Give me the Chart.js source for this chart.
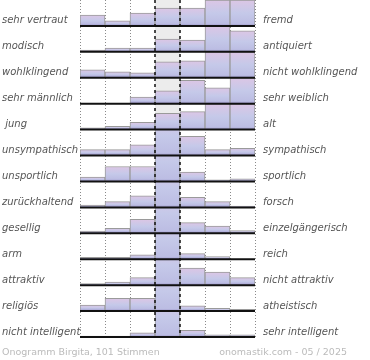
<!DOCTYPE html>
<html><head><meta charset="utf-8">
<script src="https://cdn.jsdelivr.net/npm/chart.js@4/dist/chart.umd.min.js"></script>
<style>html,body{margin:0;padding:0;background:#fff;} #wrap{width:370px;height:360px;position:relative;}</style>
</head><body><div id="wrap"><canvas id="c" width="370" height="360"></canvas></div>
<script>
const columns = ['1', '2', '3', '4', '5', '6', '7'];
const leftLabels = ['sehr vertraut', 'modisch', 'wohlklingend', 'sehr männlich', ' jung', 'unsympathisch', 'unsportlich', 'zurückhaltend', 'gesellig', 'arm', 'attraktiv', 'religiös', 'nicht intelligent'];
const rightLabels = ['fremd', 'antiquiert', 'nicht wohlklingend', 'sehr weiblich', 'alt', 'sympathisch', 'sportlich', 'forsch', 'einzelgängerisch', 'reich', 'nicht attraktiv', 'atheistisch', 'sehr intelligent'];
const row01 = [11, 5, 13, 18, 18, 26, 26];
const row02 = [1.7, 3.7, 3.7, 12.7, 11.7, 26, 21];
const row03 = [8, 6, 5, 16, 17, 26, 26];
const row04 = [0, 0, 6.7, 13, 23.5, 16, 26];
const row05 = [1.7, 3.3, 7.3, 16.3, 18, 26, 26];
const row06 = [6, 6, 10.7, 40, 19.3, 6, 7.3];
const row07 = [4.3, 15, 15, 40, 9.3, 1.7, 2.7];
const row08 = [2.3, 5.7, 11.7, 40, 10, 5.7, 1.3];
const row09 = [2.3, 5, 14, 40, 10.7, 7.3, 2.7];
const row10 = [2, 2, 4.3, 40, 5.7, 2.7, 0];
const row11 = [1.5, 3, 7.5, 40, 17, 13, 7.5];
const row12 = [6, 12.7, 12.7, 40, 5.3, 2.7, 1.7];
const row13 = [1, 1, 4.3, 40, 6.7, 2.3, 2.3];
const rows = [row01, row02, row03, row04, row05, row06, row07, row08, row09, row10, row11, row12, row13];
const footerLeft = 'Onogramm Birgita, 101 Stimmen';
const footerRight = 'onomastik.com - 05 / 2025';
const rowMax = 26;

function barFill(ctx) {
  const chart = ctx.chart;
  if (!chart.chartArea) return '#c4c6e8';
  const ys = chart.scales['y' + ctx.datasetIndex];
  const v = ctx.raw;
  const y0 = ys.getPixelForValue(0), y1 = ys.getPixelForValue(v);
  const h = y0 - y1;
  if (!isFinite(h) || h < 1) return '#b0aed8';
  const g = chart.ctx.createLinearGradient(0, y0, 0, y1);
  g.addColorStop(0, '#9d97c9');
  g.addColorStop(Math.min(0.45, 2.5 / h), '#bcbde3');
  g.addColorStop(0.5, '#c5c9e9');
  g.addColorStop(1, '#dcc6e5');
  return g;
}

const scales = {
  x: { type: 'category', labels: columns, display: false, offset: true }
};
rows.forEach((r, i) => {
  scales['y' + i] = { type: 'linear', min: 0, max: rowMax, display: false, position: 'right', stack: 'rows', stackWeight: 1 };
});

const datasets = rows.map((r, i) => ({
  data: r,
  yAxisID: 'y' + i,
  grouped: false,
  categoryPercentage: 1,
  barPercentage: 1,
  clip: 0,
  backgroundColor: barFill,
  borderColor: '#9a9a9a',
  borderWidth: { top: 1, left: 1, right: 1, bottom: 0 },
  borderSkipped: false
}));

function colEdges(chart) {
  const xs = chart.scales.x;
  const edges = [];
  const n = columns.length;
  for (let i = 0; i <= n; i++) {
    if (i === 0) edges.push(xs.left);
    else if (i === n) edges.push(xs.right);
    else edges.push((xs.getPixelForValue(i - 1) + xs.getPixelForValue(i)) / 2);
  }
  return edges;
}

const decor = {
  id: 'decor',
  beforeDatasetsDraw(chart) {
    const c = chart.ctx, a = chart.chartArea;
    const e = colEdges(chart);
    c.save();
    c.fillStyle = '#ececec';
    c.fillRect(e[3], a.top, e[4] - e[3], a.bottom - a.top);
    c.strokeStyle = '#8a8a8a';
    c.lineWidth = 1;
    c.setLineDash([1, 2]);
    [0, 1, 2, 5, 6, 7].forEach(i => {
      const x = Math.round(e[i]) + 0.5;
      c.beginPath(); c.moveTo(x, a.top); c.lineTo(x, a.bottom); c.stroke();
    });
    c.restore();
  },
  afterDatasetsDraw(chart) {
    const c = chart.ctx, a = chart.chartArea;
    const e = colEdges(chart);
    c.save();
    c.strokeStyle = '#111';
    c.lineWidth = 2;
    rows.forEach((r, i) => {
      const ys = chart.scales['y' + i];
      const y = ys.getPixelForValue(0);
      c.beginPath(); c.moveTo(a.left, y); c.lineTo(a.right, y); c.stroke();
    });
    c.lineWidth = 1.5;
    c.setLineDash([3, 3]);
    [3, 4].forEach(i => {
      const x = Math.round(e[i]);
      c.beginPath(); c.moveTo(x, a.top); c.lineTo(x, a.bottom); c.stroke();
    });
    c.setLineDash([]);
    c.font = 'italic 10px "DejaVu Sans"';
    c.fillStyle = '#555';
    c.textBaseline = 'alphabetic';
    rows.forEach((r, i) => {
      const ys = chart.scales['y' + i];
      const y = ys.getPixelForValue(0) - 2.5;
      c.textAlign = 'left';
      c.fillText(leftLabels[i], 2, y);
      c.fillText(rightLabels[i], a.right + 8, y);
    });
    c.font = '9.5px "DejaVu Sans"';
    c.fillStyle = '#bbb';
    c.textAlign = 'left';
    c.fillText(footerLeft, 2, 355);
    c.textAlign = 'right';
    c.fillText(footerRight, 347, 355);
    c.restore();
  }
};

new Chart(document.getElementById('c'), {
  type: 'bar',
  data: { labels: columns, datasets },
  options: {
    responsive: false,
    animation: false,
    layout: { padding: { left: 80, right: 115, top: 0, bottom: 23 } },
    plugins: { legend: { display: false }, tooltip: { enabled: false } },
    scales
  },
  plugins: [decor]
});
</script></body></html>
